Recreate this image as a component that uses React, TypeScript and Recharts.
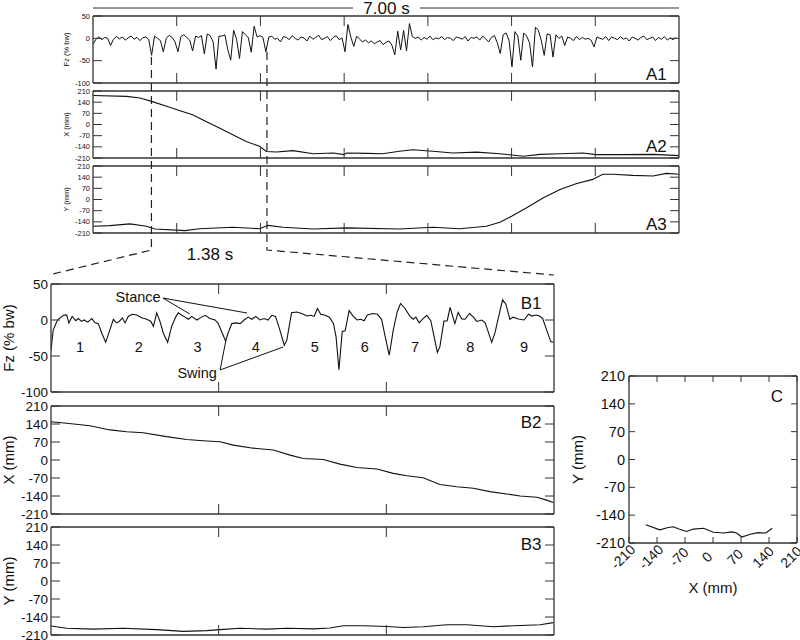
import React from 'react';
import { LineChart, Line, XAxis, YAxis, ReferenceLine, ReferenceDot } from 'recharts';

const FONT = 'Arial, "Liberation Sans", Helvetica, sans-serif';
const INK = '#111';
const FRAME = '#333';

// ---- A: whole 7 s trial ----
const A1_DT = 0.035; // s between samples of the overview force trace
const a1Fz = [
  -14, -2, 3, -3, 2, 0, -16, -2, 4, -1,
  3, -4, 1, 5, -2, 2, -5, 1, 3, -2,
  -38, 5, 0, -5, -30, 0, 7, 2, -8, -30,
  4, 8, 2, -4, -28, 5, 2, 6, -35, 10,
  6, -8, -69, 5, 5, 8, -25, -49, 18, -2,
  -45, 15, 8, 2, -31, 27, 3, 6, 2, -30,
  3, 5, -2, 0, -8, 4, 2, -3, 6, 0,
  -4, 3, 1, -6, 5, -2, 2, 7, -3, 0,
  4, -5, 2, 6, -3, 1, -30, 31, 3, -18,
  5, -2, -8, -4, -10, -6, -12, -8, -5, -14,
  -9, -6, -15, -37, 16, -26, 18, -28, 33, 4,
  0, 3, -4, 2, -2, 5, -3, 1, -1, 4,
  -3, 2, 0, -5, 3, 1, -2, 4, -6, 2,
  0, 3, -4, 5, -1, -8, 2, 6, -10, -34,
  8, 12, -5, -64, 15, 5, -49, 12, 5, -10,
  -64, 25, 18, -5, -38, 10, 8, -42, 8, 0,
  5, -16, 3, 0, -5, 4, -3, 2, -2, 0,
  -4, -19, 3, 0, -2, 4, -5, 3, 0, -3,
  4, -2, 1, -6, 3, 0, -4, 2, 5, -3,
  0, 3, -5, 2, -2, 4, -4, 1, -3, 2,
];
const a2Time = [0, 0.4, 0.56, 0.7, 0.88, 1.04, 1.19, 1.35, 1.51, 1.67, 1.83, 1.99, 2.07, 2.19, 2.39, 2.63, 2.87, 3.0, 3.03, 3.27, 3.46, 3.66, 3.82, 4.06, 4.3, 4.58, 4.86, 5.0, 5.14, 5.34, 5.58, 5.85, 6.01, 6.29, 6.69, 7.0];
const a2X = [182, 176, 166, 145, 114, 86, 61, 19, -22, -64, -106, -137, -169, -172, -164, -183, -179, -189, -179, -181, -183, -168, -158, -168, -179, -173, -183, -191, -199, -187, -183, -179, -189, -189, -187, -195];
const a3Time = [0, 0.2, 0.44, 0.64, 0.74, 1.1, 1.27, 1.67, 1.99, 2.09, 2.27, 2.63, 3.03, 3.66, 4.06, 4.38, 4.7, 4.86, 5.0, 5.18, 5.38, 5.58, 5.77, 5.97, 6.09, 6.21, 6.45, 6.69, 6.85, 7.0];
const a3Y = [-168, -164, -153, -168, -185, -195, -183, -174, -183, -162, -174, -185, -178, -185, -174, -183, -168, -143, -105, -52, 11, 63, 99, 126, 158, 158, 151, 147, 164, 158];

// ---- B: 1.38 s excerpt ----
const b1Time = [
  0, 0.006, 0.016, 0.02, 0.034, 0.043, 0.049, 0.058, 0.068, 0.075,
  0.084, 0.091, 0.101, 0.112, 0.121, 0.13, 0.139, 0.15, 0.162, 0.171,
  0.18, 0.187, 0.196, 0.203, 0.212, 0.223, 0.235, 0.249, 0.263, 0.274,
  0.281, 0.29, 0.299, 0.308, 0.32, 0.331, 0.342, 0.349, 0.359, 0.368,
  0.377, 0.386, 0.4, 0.413, 0.423, 0.436, 0.45, 0.459, 0.468, 0.479,
  0.486, 0.496, 0.507, 0.519, 0.53, 0.541, 0.551, 0.562, 0.573, 0.585,
  0.595, 0.606, 0.616, 0.628, 0.64, 0.647, 0.66, 0.674, 0.688, 0.702,
  0.713, 0.722, 0.731, 0.74, 0.752, 0.764, 0.775, 0.782, 0.79, 0.799,
  0.807, 0.818, 0.829, 0.84, 0.85, 0.859, 0.868, 0.883, 0.895, 0.907,
  0.916, 0.928, 0.939, 0.95, 0.959, 0.971, 0.985, 0.994, 1.001, 1.01,
  1.02, 1.031, 1.042, 1.051, 1.06, 1.067, 1.078, 1.087, 1.095, 1.102,
  1.108, 1.117, 1.127, 1.136, 1.148, 1.159, 1.168, 1.182, 1.191, 1.198,
  1.209, 1.218, 1.23, 1.239, 1.248, 1.259, 1.268, 1.282, 1.298, 1.31,
  1.319, 1.331, 1.34, 1.349, 1.36, 1.371, 1.378,
];
const b1Fz = [
  -42, -14, -2, 1, 6.5, 7, -4, 5, -1, 2,
  -2, 0, -3, 2, -4, -5, -18, -31, -13, 1,
  -4, -2, 3, -4, 5, 8, 7, 3, 1, -2,
  -9, 10, -2, -18, -31, -9, 4, 10, 6.5, 4,
  1, 5, 0, 4, 6.5, 2, 0, -5, -16, -29,
  -18, -5, -4, -5, 0, 4, 1, 5, 0, 2,
  0, 6.5, 5, -14, -35, -28, 10, 11, 9, 5.5,
  6.5, 5, 16, 8, 6.5, 4, -5, -23, -69, -16,
  -15, 13, 5.5, 0, 1, -1, 7, 9, 8, 1,
  -21, -49, -14, 11.5, 23, 16, 5, 1, 4, -4,
  1.5, 6.5, -1, -23, -45, -37, -1.5, -1, 17.5, 5,
  -5, 10.5, 1.5, 1, 9, 4, -2, 0, -4, -14,
  -31, -18, 9, 28, 22, 1, 4, 1.5, 0, 8,
  5.5, 7, 5.5, 2, -14, -30, -31,
];
const b2Time = [0, 0.043, 0.107, 0.162, 0.208, 0.253, 0.317, 0.372, 0.427, 0.464, 0.5, 0.555, 0.61, 0.656, 0.692, 0.747, 0.793, 0.839, 0.894, 0.939, 0.976, 1.021, 1.067, 1.113, 1.159, 1.204, 1.25, 1.287, 1.333, 1.36, 1.378];
const b2X = [149, 143, 133, 117, 110, 106, 91, 80, 74, 71, 58, 46, 39, 19, 6, 2, -16, -29, -35, -52, -61, -69, -95, -104, -110, -123, -132, -140, -145, -156, -165];
const b3Time = [0, 0.043, 0.116, 0.198, 0.29, 0.363, 0.427, 0.464, 0.519, 0.592, 0.647, 0.72, 0.765, 0.802, 0.857, 0.921, 0.967, 1.021, 1.086, 1.141, 1.214, 1.269, 1.342, 1.378];
const b3Y = [-175, -184, -187, -184, -189, -196, -193, -189, -184, -187, -184, -186, -183, -174, -174, -177, -181, -178, -170, -170, -178, -174, -170, -162];

// ---- C: X/Y path ----
const cX = [-168, -133, -112, -99, -87, -66, -49, -24, 1, 26, 47, 59, 72, 93, 113, 132, 148];
const cY = [-164, -177, -171, -169, -174, -181, -175, -173, -183, -185, -182, -185, -195, -188, -184, -185, -173];

const aTicks = [1, 2, 3, 4, 5, 6];
const bTicks = [0.46, 0.92];
const fzTicks = [-100, -50, 0, 50];
const mmTicks = [-210, -140, -70, 0, 70, 140, 210];
const stepNames = ['1', '2', '3', '4', '5', '6', '7', '8', '9'];
const stepAt = [0.08, 0.241, 0.402, 0.562, 0.724, 0.861, 0.999, 1.15, 1.298];

const ZOOM_START = 0.698;
const ZOOM_LEN = 1.38;

// layout
const A_LEFT = 93, A_W = 586, A_H = 67;
const B_LEFT = 51, B_W = 503, B_H = 108;

type Row = { t: number; v: number };
const rows = (ts: number[], vs: number[]): Row[] => ts.map((t, i) => ({ t, v: vs[i] }));

function LeftTick(p: any) {
  const { x, y, payload, fs, gap, len } = p;
  const ax = x + gap;
  return (
    <g>
      <line x1={ax} x2={ax + len} y1={y} y2={y} stroke={FRAME} />
      <text x={x} y={y} dy="0.35em" textAnchor="end" fontSize={fs} fontFamily={FONT} fill={INK}>
        {payload.value}
      </text>
    </g>
  );
}

function BottomTick(p: any) {
  const { x, y, payload, fs, gap, len } = p;
  const ay = y - gap;
  const lx = x - 6;
  return (
    <g>
      <line x1={x} x2={x} y1={ay} y2={ay - len} stroke={FRAME} />
      <text x={lx} y={y} dy="0.35em" transform={`rotate(-45 ${lx} ${y})`} textAnchor="middle" fontSize={fs} fontFamily={FONT} fill={INK}>
        {payload.value}
      </text>
    </g>
  );
}

// inward tick mark for the mirrored frame axes (tickSize 0, so x/y sit on the frame)
function EdgeTick(p: any) {
  const { x, y, side, len } = p;
  const dx = side === 'right' ? -len : 0;
  const dy = side === 'bottom' ? -len : side === 'top' ? len : 0;
  return <line x1={x} y1={y} x2={x + dx} y2={y + dy} stroke={FRAME} />;
}

type PanelProps = {
  top: number; left: number; w: number; h: number;
  padL: number; padT: number; padB: number;
  data: Row[]; xMax: number; xTicks: number[];
  yDomain: [number, number]; yTicks: number[];
  fs: number; title: string; titleFs: number; titleX: number;
  tag: string; tagX: number; tagY: number;
  lineW?: number;
  children?: React.ReactNode;
};

function Panel(p: PanelProps) {
  const padR = 4;
  const axisLine = { stroke: FRAME, strokeWidth: 1.3 };
  return (
    <div style={{ position: 'absolute', left: p.left - p.padL, top: p.top - p.padT }}>
      <LineChart
        width={p.padL + p.w + padR}
        height={p.padT + p.h + p.padB}
        data={p.data}
        margin={{ top: p.padT, right: padR, bottom: p.padB, left: 0 }}
        accessibilityLayer={false}
      >
        <XAxis xAxisId="b" dataKey="t" type="number" domain={[0, p.xMax]} allowDataOverflow ticks={p.xTicks} interval={0}
          orientation="bottom" mirror height={10} tickLine={false} tickSize={0} tickMargin={0} stroke={FRAME} axisLine={axisLine}
          tick={(tp: any) => <EdgeTick {...tp} side="bottom" len={10} />} />
        <XAxis xAxisId="t" dataKey="t" type="number" domain={[0, p.xMax]} allowDataOverflow ticks={p.xTicks} interval={0}
          orientation="top" mirror height={10} tickLine={false} tickSize={0} tickMargin={0} stroke={FRAME} axisLine={axisLine}
          tick={(tp: any) => <EdgeTick {...tp} side="top" len={10} />} />
        <YAxis yAxisId="l" type="number" domain={p.yDomain} allowDataOverflow ticks={p.yTicks} interval={0}
          width={p.padL} tickLine={false} tickSize={0} tickMargin={3} stroke={FRAME} axisLine={axisLine}
          tick={(tp: any) => <LeftTick {...tp} fs={p.fs} gap={3} len={9} />}
          label={{ value: p.title, angle: -90, position: 'insideLeft', offset: p.titleX, fontSize: p.titleFs, fontFamily: FONT, fill: INK, style: { textAnchor: 'middle' } }} />
        <YAxis yAxisId="r" orientation="right" mirror type="number" domain={p.yDomain} allowDataOverflow ticks={p.yTicks} interval={0}
          width={9} tickLine={false} tickSize={0} tickMargin={0} stroke={FRAME} axisLine={axisLine}
          tick={(tp: any) => <EdgeTick {...tp} side="right" len={9} />} />
        <Line xAxisId="b" yAxisId="l" dataKey="v" type="linear" stroke={INK} strokeWidth={p.lineW ?? 1.1}
          dot={false} activeDot={false} isAnimationActive={false} />
        <ReferenceDot xAxisId="b" yAxisId="l" x={p.tagX} y={p.tagY} r={0} fill="none" stroke="none"
          label={{ value: p.tag, position: 'center', fontSize: 17, fontFamily: FONT, fill: INK }} />
        {p.children}
      </LineChart>
    </div>
  );
}

function CPanel() {
  const left = 629, top = 376, w = 168, h = 167, padL = 69, padT = 10, padR = 3, padB = 67;
  const data = cX.map((x, i) => ({ x, y: cY[i] }));
  const axisLine = { stroke: FRAME, strokeWidth: 1.3 };
  return (
    <div style={{ position: 'absolute', left: left - padL, top: top - padT }}>
      <LineChart width={padL + w + padR} height={padT + h + padB} data={data}
        margin={{ top: padT, right: padR, bottom: 0, left: 0 }} accessibilityLayer={false}>
        <XAxis xAxisId="b" dataKey="x" type="number" domain={[-210, 210]} allowDataOverflow ticks={mmTicks} interval={0}
          orientation="bottom" height={padB} tickLine={false} tickSize={0} tickMargin={14} stroke={FRAME} axisLine={axisLine}
          tick={(tp: any) => <BottomTick {...tp} fs={14} gap={14} len={6} />}
          label={{ value: 'X (mm)', position: 'insideBottom', offset: 17, fontSize: 15, fontFamily: FONT, fill: INK }} />
        <XAxis xAxisId="t" dataKey="x" type="number" domain={[-210, 210]} allowDataOverflow ticks={mmTicks} interval={0}
          orientation="top" mirror height={6} tickLine={false} tickSize={0} tickMargin={0} stroke={FRAME} axisLine={axisLine}
          tick={(tp: any) => <EdgeTick {...tp} side="top" len={6} />} />
        <YAxis yAxisId="l" type="number" domain={[-210, 210]} allowDataOverflow ticks={mmTicks} interval={0}
          width={padL} tickLine={false} tickSize={0} tickMargin={4} stroke={FRAME} axisLine={axisLine}
          tick={(tp: any) => <LeftTick {...tp} fs={14.5} gap={4} len={6} />}
          label={{ value: 'Y (mm)', angle: -90, position: 'insideLeft', offset: 18, fontSize: 15, fontFamily: FONT, fill: INK, style: { textAnchor: 'middle' } }} />
        <YAxis yAxisId="r" orientation="right" mirror type="number" domain={[-210, 210]} allowDataOverflow ticks={mmTicks} interval={0}
          width={6} tickLine={false} tickSize={0} tickMargin={0} stroke={FRAME} axisLine={axisLine}
          tick={(tp: any) => <EdgeTick {...tp} side="right" len={6} />} />
        <Line xAxisId="b" yAxisId="l" dataKey="y" type="linear" stroke={INK} strokeWidth={1.1}
          dot={false} activeDot={false} isAnimationActive={false} />
        <ReferenceDot xAxisId="b" yAxisId="l" x={160} y={160} r={0} fill="none" stroke="none"
          label={{ value: 'C', position: 'center', fontSize: 17, fontFamily: FONT, fill: INK }} />
      </LineChart>
    </div>
  );
}

function Overlay() {
  const ax = (t: number) => A_LEFT + (t / 7) * A_W;
  const xl = ax(ZOOM_START);
  const xr = ax(ZOOM_START + ZOOM_LEN);
  return (
    <svg width={800} height={640} style={{ position: 'absolute', left: 0, top: 0, pointerEvents: 'none' }}>
      <g stroke={FRAME} strokeWidth={1.2}>
        <line x1={A_LEFT} x2={353} y1={8} y2={8} />
        <line x1={420} x2={A_LEFT + A_W} y1={8} y2={8} />
      </g>
      <text x={386.5} y={8} dy="0.35em" textAnchor="middle" fontSize={17} fontFamily={FONT} fill={INK}>7.00 s</text>
      <g fill="none" stroke="#222" strokeWidth={1.2} strokeDasharray="8 5">
        <polyline points={`${xl},57 ${xl},250 ${B_LEFT + 2},274`} />
        <polyline points={`${xr},52 ${xr},250 ${B_LEFT + B_W},275`} />
      </g>
      <text x={210} y={254} dy="0.35em" textAnchor="middle" fontSize={17} fontFamily={FONT} fill={INK}>1.38 s</text>
    </svg>
  );
}

export default function App() {
  const a1 = a1Fz.map((v, i) => ({ t: +(i * A1_DT).toFixed(3), v }));
  const aCommon = { left: A_LEFT, w: A_W, h: A_H, padL: A_LEFT, padT: 9, padB: 9, xMax: 7, xTicks: aTicks, fs: 7.5, titleFs: 7.5, titleX: 66.5, tagX: 6.73 };
  const bCommon = { left: B_LEFT, w: B_W, h: B_H, padL: B_LEFT, padT: 10, padB: 9, xMax: ZOOM_LEN, xTicks: bTicks, fs: 13.5, titleFs: 15, titleX: 9, tagX: 1.317 };
  const seg = (a: { t: number; v: number }, b: { t: number; v: number }) => [{ x: a.t, y: a.v }, { x: b.t, y: b.v }];
  const stanceFrom = { t: 0.307, v: 30.5 };
  const swingFrom = { t: 0.464, v: -69.4 };
  const note = { position: 'center' as const, fontSize: 14.5, fontFamily: FONT, fill: INK };
  return (
    <div style={{ position: 'absolute', left: 0, top: 0, width: 800, height: 640, overflow: 'hidden', background: '#fff', fontFamily: FONT }}>
      <Panel {...aCommon} top={16} data={a1} yDomain={[-100, 50]} yTicks={fzTicks} title="Fz (% bw)" tag="A1" tagY={-80} lineW={1} />
      <Panel {...aCommon} top={91} data={rows(a2Time, a2X)} yDomain={[-210, 210]} yTicks={mmTicks} title="X (mm)" tag="A2" tagY={-135} />
      <Panel {...aCommon} top={166} data={rows(a3Time, a3Y)} yDomain={[-210, 210]} yTicks={mmTicks} title="Y (mm)" tag="A3" tagY={-151} />

      <Panel {...bCommon} top={284} data={rows(b1Time, b1Fz)} yDomain={[-100, 50]} yTicks={fzTicks} title="Fz (% bw)" tag="B1" tagY={24}>
        {stepNames.map((s, i) => (
          <ReferenceDot key={s} xAxisId="b" yAxisId="l" x={stepAt[i]} y={-37} r={0} fill="none" stroke="none"
            label={{ ...note, value: s }} />
        ))}
        <ReferenceDot xAxisId="b" yAxisId="l" x={0.239} y={32} r={0} fill="none" stroke="none" label={{ ...note, value: 'Stance' }} />
        <ReferenceDot xAxisId="b" yAxisId="l" x={0.401} y={-73.6} r={0} fill="none" stroke="none" label={{ ...note, value: 'Swing' }} />
        <ReferenceLine xAxisId="b" yAxisId="l" segment={seg(stanceFrom, { t: 0.381, v: 8.3 })} stroke={INK} ifOverflow="visible" />
        <ReferenceLine xAxisId="b" yAxisId="l" segment={seg(stanceFrom, { t: 0.538, v: 9.7 })} stroke={INK} ifOverflow="visible" />
        <ReferenceLine xAxisId="b" yAxisId="l" segment={seg(swingFrom, { t: 0.48, v: -27.8 })} stroke={INK} ifOverflow="visible" />
        <ReferenceLine xAxisId="b" yAxisId="l" segment={seg(swingFrom, { t: 0.637, v: -37.5 })} stroke={INK} ifOverflow="visible" />
      </Panel>
      <Panel {...bCommon} top={406} data={rows(b2Time, b2X)} yDomain={[-210, 210]} yTicks={mmTicks} title="X (mm)" tag="B2" tagY={146} />
      <Panel {...bCommon} top={527} data={rows(b3Time, b3Y)} yDomain={[-210, 210]} yTicks={mmTicks} title="Y (mm)" tag="B3" tagY={144} />

      <CPanel />
      <Overlay />
    </div>
  );
}
